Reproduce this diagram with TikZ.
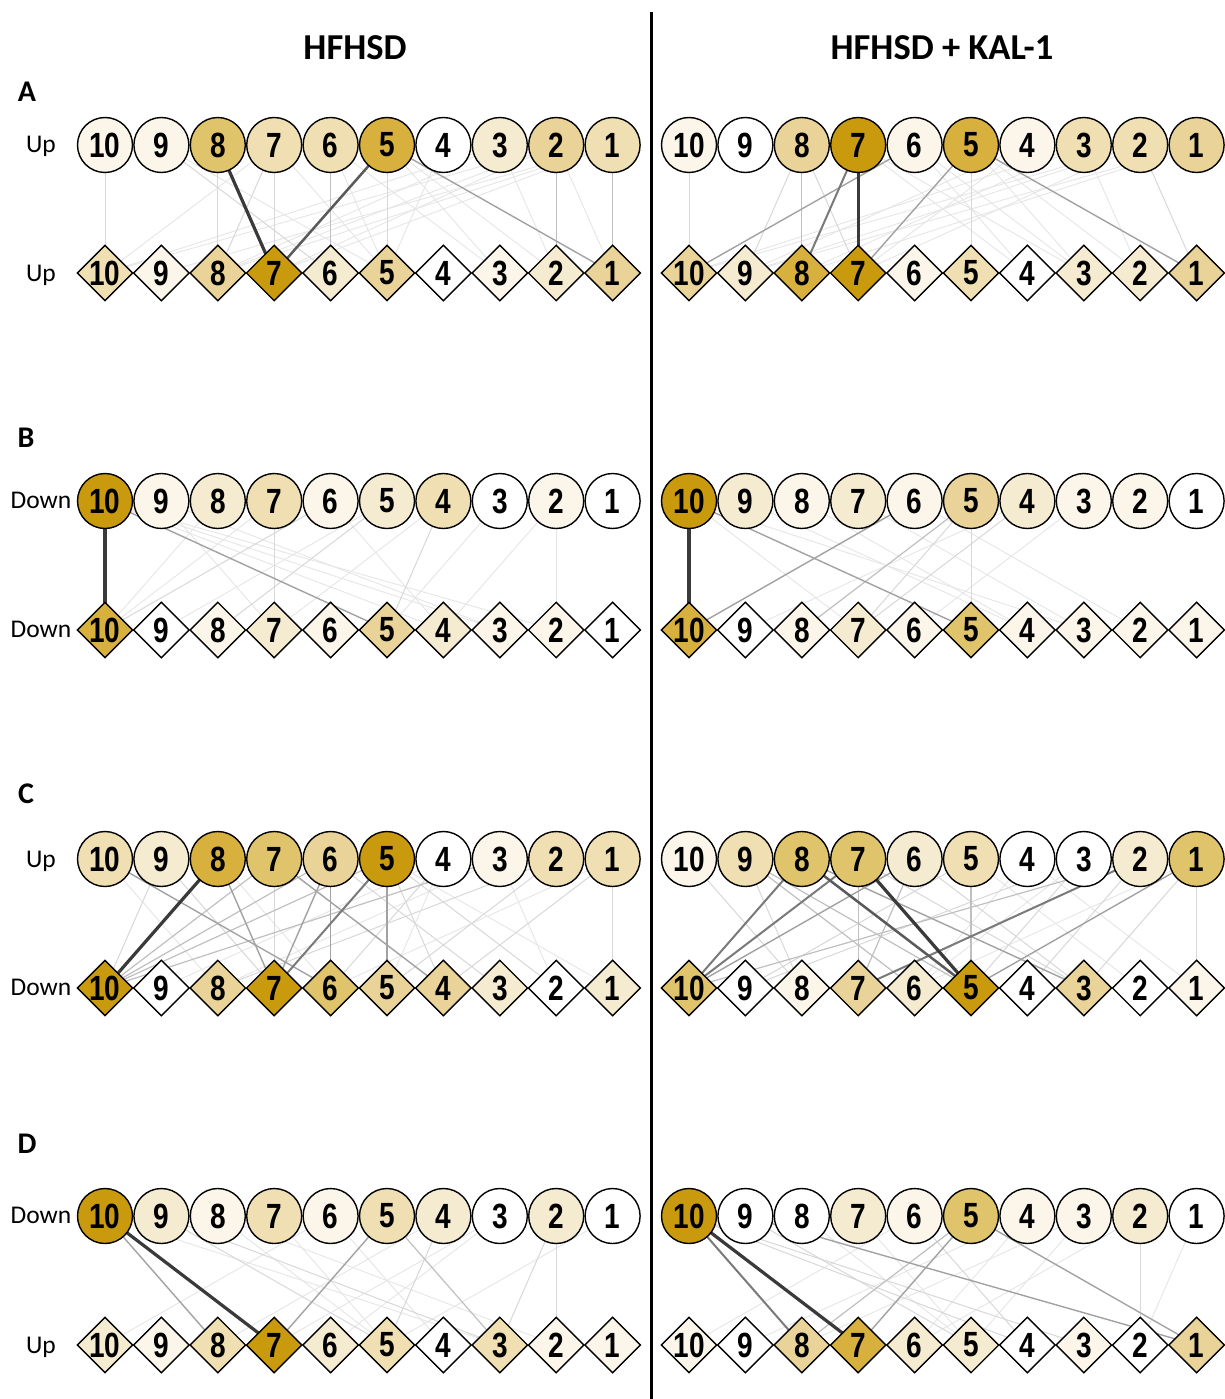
\documentclass[tikz,border=0pt]{standalone}
\usepackage{fontspec}
\setmainfont{Carlito}
\newfontfamily\numfont[FakeStretch=0.8]{Liberation Sans Bold}
\usetikzlibrary{shapes.geometric,backgrounds}
\pgfdeclarelayer{bottom}
\pgfsetlayers{bottom,background,main}
\definecolor{g0}{HTML}{FFFFFF}
\definecolor{g1}{HTML}{FBF6E9}
\definecolor{g2}{HTML}{F5EBD0}
\definecolor{g3}{HTML}{EFDFB2}
\definecolor{g4}{HTML}{E9D398}
\definecolor{g5}{HTML}{E0C46C}
\definecolor{g6}{HTML}{D8B03E}
\definecolor{g7}{HTML}{C99A0E}
\definecolor{l1}{HTML}{E6E6E6}
\definecolor{l2}{HTML}{D8D8D8}
\definecolor{l3}{HTML}{C0C0C0}
\definecolor{l4}{HTML}{A2A2A2}
\definecolor{l5}{HTML}{7A7A7A}
\definecolor{l6}{HTML}{5A5A5A}
\definecolor{l7}{HTML}{3A3A3A}
\newcommand\crow[4]{\foreach \n/\c [count=\i from 0] in {#4}{\node[cnode,fill=g\c] (#1\n) at ({#2+\i*56.4},#3) {\n};}}
\newcommand\drow[4]{\foreach \n/\c [count=\i from 0] in {#4}{\node[dnode,fill=g\c] (#1\n) at ({#2+\i*56.4},#3) {\n};}}
\newcommand\links[3]{\foreach \a/\b in {#3}{\draw[#2] (#1t\a.center) -- (#1b\b.center);}}
\begin{document}
\begin{tikzpicture}[x=1pt,y=-1pt,
  numf/.style={font=\numfont\fontsize{35}{35}\selectfont},
  cnode/.style={circle,draw=black,line width=1.4pt,minimum size=55pt,inner sep=0pt,numf},
  dnode/.style={diamond,draw=black,line width=1.4pt,minimum width=56pt,minimum height=56pt,inner sep=0pt,numf},
  lab/.style={anchor=base,font=\fontsize{25.5}{25.5}\selectfont},
  head/.style={anchor=base,font=\bfseries\fontsize{36.5}{36.5}\selectfont},
  plet/.style={anchor=base,font=\bfseries\fontsize{30}{30}\selectfont},
  e1/.style={draw=l1,line width=0.9pt},
  e2/.style={draw=l2,line width=1pt},
  e3/.style={draw=l3,line width=1.2pt},
  e4/.style={draw=l4,line width=1.4pt},
  e5/.style={draw=l5,line width=2pt},
  e6/.style={draw=l6,line width=2.5pt},
  e7/.style={draw=l7,line width=3.2pt}]
\begin{pgfonlayer}{bottom}
\fill[white] (0,0) rectangle (1224,1399);
\end{pgfonlayer}
\useasboundingbox (0,0) rectangle (1224,1399);
\draw[line width=3pt] (651,12) -- (651,1399);
\node[head] (h1) at (355,60) {HFHSD};
\node[head] (h2) at (942,60) {HFHSD + KAL-1};
\node[plet] (pA) at (27,102) {A};
\node[plet] (pB) at (26,447) {B};
\node[plet] (pC) at (26,803) {C};
\node[plet] (pD) at (27,1153) {D};
\node[lab] (uA1) at (41,153) {Up};
\node[lab] (uA2) at (41,281) {Up};
\node[lab] (uB1) at (41,508) {Down};
\node[lab] (uB2) at (41,637) {Down};
\node[lab] (uC1) at (41,867) {Up};
\node[lab] (uC2) at (41,995) {Down};
\node[lab] (uD1) at (41,1223) {Down};
\node[lab] (uD2) at (41,1353) {Up};
% ---- A
\crow{ALt}{105}{145}{10/1,9/1,8/5,7/3,6/3,5/6,4/0,3/2,2/4,1/3}
\drow{ALb}{105}{273}{10/3,9/1,8/4,7/7,6/2,5/4,4/0,3/1,2/2,1/4}
\crow{ARt}{689}{145}{10/1,9/0,8/4,7/7,6/1,5/6,4/1,3/3,2/3,1/4}
\drow{ARb}{689}{273}{10/4,9/2,8/6,7/7,6/1,5/3,4/0,3/2,2/2,1/4}
% ---- B
\crow{BLt}{105}{501}{10/7,9/1,8/2,7/3,6/1,5/2,4/3,3/0,2/1,1/0}
\drow{BLb}{105}{630}{10/6,9/0,8/1,7/2,6/1,5/4,4/2,3/1,2/1,1/0}
\crow{BRt}{689}{501}{10/7,9/2,8/1,7/2,6/1,5/4,4/2,3/1,2/1,1/0}
\drow{BRb}{689}{630}{10/6,9/0,8/1,7/2,6/1,5/5,4/1,3/1,2/1,1/1}
% ---- C
\crow{CLt}{105}{859}{10/3,9/2,8/6,7/5,6/4,5/7,4/0,3/1,2/3,1/3}
\drow{CLb}{105}{988}{10/7,9/0,8/4,7/7,6/5,5/4,4/4,3/2,2/0,1/2}
\crow{CRt}{689}{859}{10/1,9/3,8/5,7/5,6/2,5/3,4/0,3/0,2/2,1/5}
\drow{CRb}{689}{988}{10/5,9/0,8/1,7/4,6/2,5/7,4/0,3/4,2/0,1/1}
% ---- D
\crow{DLt}{105}{1216}{10/7,9/2,8/1,7/3,6/1,5/3,4/2,3/0,2/2,1/0}
\drow{DLb}{105}{1345}{10/2,9/1,8/3,7/7,6/2,5/3,4/0,3/3,2/1,1/1}
\crow{DRt}{689}{1216}{10/7,9/0,8/0,7/2,6/1,5/5,4/1,3/1,2/2,1/0}
\drow{DRb}{689}{1345}{10/1,9/0,8/4,7/6,6/2,5/2,4/0,3/1,2/0,1/4}
\begin{scope}[on background layer]
% A left
\links{AL}{e1}{9/5,7/10,7/5,6/5,3/10,3/8,2/10,2/8,2/7,1/9,1/7,5/3,5/2,4/5,3/2,2/1,1/8,6/3}
\links{AL}{e2}{10/10,8/8,7/7,5/5,7/8,9/6}
\links{AL}{e3}{6/6,2/2,1/1}
\links{AL}{e4}{5/1}
\links{AL}{e6}{5/7}
\links{AL}{e7}{8/7}
% A right
\links{AR}{e1}{3/10,2/10,2/9,1/9,1/8,3/8,2/7,4/7,5/3,5/2,6/3,7/4,4/9,7/3,6/4,3/2}
\links{AR}{e2}{10/10,5/5,8/7,8/9,2/1}
\links{AR}{e3}{8/8}
\links{AR}{e4}{5/7,6/10,5/1}
\links{AR}{e5}{7/8}
\links{AR}{e7}{7/7}
% B left
\links{BL}{e1}{10/4,10/3,10/2,2/2,8/10,7/10,9/3,4/7,2/4,3/5,5/9,9/7,6/4}
\links{BL}{e2}{6/10,5/8,4/5,7/7}
\links{BL}{e4}{10/5}
\links{BL}{e7}{10/10}
% B right
\links{BR}{e1}{10/7,7/3,6/2,10/3,9/4,4/9,3/6,8/4}
\links{BR}{e2}{5/5,5/7,4/7}
\links{BR}{e3}{5/8}
\links{BR}{e4}{10/5,6/10}
\links{BR}{e7}{10/10}
% C left
\links{CL}{e1}{4/5,3/8,1/6,8/6,5/1,3/2,10/8,4/9}
\links{CL}{e2}{9/10,7/7,1/1,2/8,1/4,5/4,5/2,6/3,9/7,2/5,4/6}
\links{CL}{e3}{5/10,7/10,6/10,3/10}
\links{CL}{e4}{10/6,7/4,6/7,8/7,6/6,5/5}
\links{CL}{e5}{5/7}
\links{CL}{e7}{8/10}
% C right
\links{CR}{e1}{4/6,5/2,3/6,4/1,1/6}
\links{CR}{e2}{3/9,1/1,1/3,2/4,3/5,7/3,6/3,5/9,10/8,9/8}
\links{CR}{e3}{2/10,7/7,5/5,6/7,9/5,9/6}
\links{CR}{e4}{1/5,6/10,8/3}
\links{CR}{e5}{8/10,7/10,2/7}
\links{CR}{e6}{8/5}
\links{CR}{e7}{7/5}
% D left
\links{DL}{e1}{10/3,8/5,6/4,7/5,3/7,4/8,1/5,8/2,6/10,3/6}
\links{DL}{e2}{9/5,9/3,4/5,2/3,2/2}
\links{DL}{e3}{5/3}
\links{DL}{e4}{10/8,5/7}
\links{DL}{e7}{10/7}
% D right
\links{DR}{e1}{7/5,4/6,3/5,8/5,4/9,6/10,1/2,3/8,2/6}
\links{DR}{e2}{10/4,10/3,9/5,6/4,2/2}
\links{DR}{e3}{5/8}
\links{DR}{e4}{9/1,5/1,5/7}
\links{DR}{e5}{10/8}
\links{DR}{e7}{10/7}
\end{scope}
\end{tikzpicture}
\end{document}
